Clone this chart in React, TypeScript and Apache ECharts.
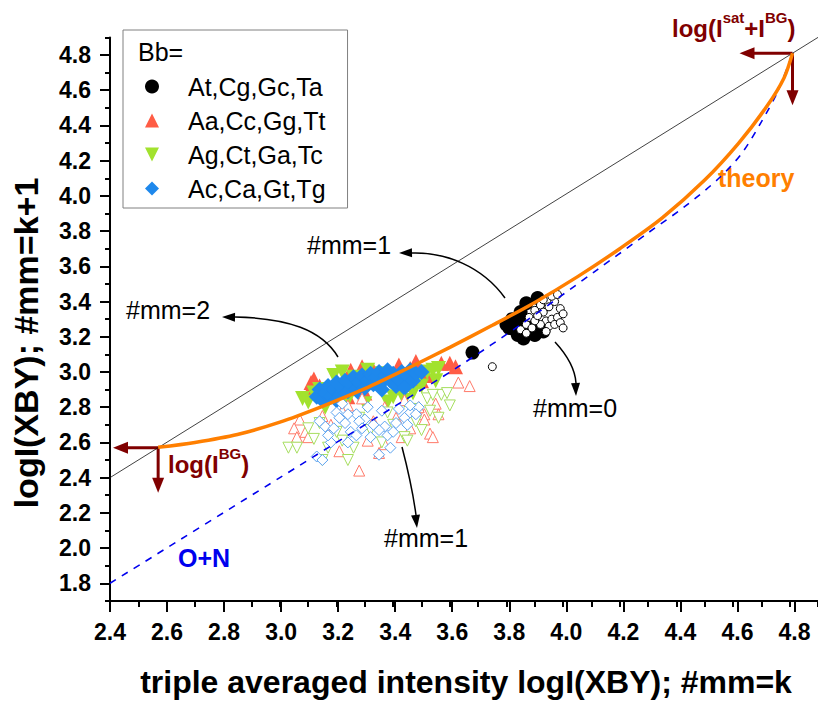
import React, { useEffect, useRef } from "react";
import * as echarts from "echarts";

const FONT = '"Liberation Sans", Arial, Helvetica, sans-serif';

// Axis ranges: the frame runs a little past the last labelled tick.
const X_RANGE = [2.4, 4.9];
const Y_RANGE = [1.7, 4.9];
const X_LABELLED = [2.4, 4.8];
const Y_LABELLED = [1.8, 4.8];
const MAJOR_STEP = 0.2;
const MINOR_STEP = 0.1;

// Background and saturation levels (log units) marked by the arrows.
const BG_LEVEL = 2.57;
const SAT_LEVEL = 4.81;

const groupNames = ["At,Cg,Gc,Ta", "Aa,Cc,Gg,Tt", "Ag,Ct,Ga,Tc", "Ac,Ca,Gt,Tg"];
const groupColors = ["#000000", "#ff5c45", "#a2e22e", "#1e88ec"];
const openColors = ["#000000", "#ff7a6a", "#a6de5e", "#5aa2f0"];

// Identity line y = x
const diagX = [2.4, 4.9];
const diagY = [2.4, 4.9];

// "O+N" reference curve
const onX = [2.4, 3.0, 3.4, 3.63, 3.86, 4.12, 4.3, 4.43, 4.55, 4.63, 4.7, 4.76, 4.81];
const onY = [1.8, 2.4, 2.8, 3.03, 3.28, 3.58, 3.79, 3.94, 4.1, 4.24, 4.42, 4.6, 4.81];

// Theory curve, from the background level up to saturation
const theoryX = [2.57, 2.7, 2.85, 3.0, 3.15, 3.3, 3.45, 3.6, 3.75, 3.9, 4.05, 4.2, 4.35, 4.5, 4.62, 4.72, 4.78, 4.81];
const theoryY = [2.572, 2.6, 2.645, 2.715, 2.805, 2.905, 3.02, 3.14, 3.265, 3.395, 3.54, 3.7, 3.875, 4.09, 4.3, 4.51, 4.67, 4.81];

// Filled symbols: #mm = k+1 pairs
const atFilled = [
  [3.68, 3.11], [3.8, 3.27], [3.82, 3.3], [3.83, 3.24], [3.86, 3.19], [3.88, 3.22],
  [3.9, 3.21], [3.93, 3.23], [3.85, 3.34], [3.87, 3.29], [3.87, 3.39], [3.91, 3.42],
  [3.84, 3.28], [3.81, 3.25], [3.89, 3.26], [3.84, 3.21],
];
const aaFilled = [
  [3.1, 2.88], [3.11, 2.94], [3.12, 2.96], [3.14, 2.92], [3.16, 2.9], [3.2, 2.95],
  [3.25, 3.01], [3.29, 3.03], [3.33, 3.01], [3.37, 2.99], [3.42, 3.04], [3.46, 3.02],
  [3.48, 3.06], [3.52, 2.98], [3.57, 3.05], [3.6, 3.05], [3.62, 3.03], [3.18, 2.87],
  [3.22, 2.91], [3.28, 2.93], [3.35, 2.95], [3.4, 2.97], [3.44, 2.93], [3.3, 2.88],
  [3.24, 2.86], [3.5, 2.95],
];
const agFilled = [
  [3.08, 2.85], [3.1, 2.83], [3.12, 2.88], [3.16, 2.8], [3.19, 2.98], [3.22, 3.0],
  [3.31, 3.01], [3.36, 2.99], [3.4, 2.86], [3.43, 2.89], [3.46, 2.93], [3.49, 2.97],
  [3.52, 3.0], [3.54, 3.01], [3.47, 2.88], [3.5, 2.92], [3.44, 2.84], [3.26, 2.97],
  [3.14, 2.9], [3.38, 2.83], [3.3, 2.82], [3.24, 2.84], [3.55, 2.95], [3.56, 3.02],
];
const acFilled = [
  [3.13, 2.86], [3.14, 2.9], [3.15, 2.84], [3.16, 2.88], [3.17, 2.92], [3.18, 2.86],
  [3.19, 2.9], [3.2, 2.94], [3.21, 2.87], [3.22, 2.91], [3.23, 2.95], [3.24, 2.89],
  [3.25, 2.93], [3.26, 2.97], [3.27, 2.9], [3.28, 2.94], [3.29, 2.98], [3.3, 2.91],
  [3.31, 2.95], [3.32, 2.99], [3.33, 2.93], [3.34, 2.97], [3.35, 3.0], [3.36, 2.94],
  [3.37, 2.98], [3.38, 3.01], [3.39, 2.95], [3.4, 2.99], [3.41, 2.92], [3.42, 2.96],
  [3.43, 3.0], [3.44, 2.94], [3.45, 2.98], [3.46, 3.01], [3.47, 2.95], [3.48, 2.99],
  [3.36, 2.9], [3.28, 2.88], [3.2, 2.84], [3.5, 3.0], [3.44, 2.91],
];

// Open symbols: #mm = k pairs
const atOpen = [
  [3.75, 3.03], [3.85, 3.24], [3.87, 3.27], [3.88, 3.31], [3.9, 3.35], [3.92, 3.38],
  [3.93, 3.34], [3.95, 3.37], [3.97, 3.4], [3.99, 3.36], [3.94, 3.29], [3.96, 3.3],
  [3.98, 3.31], [3.92, 3.27], [3.95, 3.26], [3.97, 3.27], [3.9, 3.29], [3.87, 3.22],
  [3.99, 3.28], [4.0, 3.33], [3.96, 3.43], [3.93, 3.41], [3.89, 3.25], [3.91, 3.32],
  [3.94, 3.23], [4.0, 3.25], [3.98, 3.44],
];
const aaOpen = [
  [3.07, 2.73], [3.05, 2.68], [3.06, 2.63], [3.09, 2.66], [3.1, 2.63], [3.21, 2.55],
  [3.28, 2.44], [3.35, 2.54], [3.37, 2.59], [3.43, 2.63], [3.51, 2.76], [3.53, 2.65],
  [3.55, 2.82], [3.63, 2.94], [3.67, 2.92], [3.41, 2.74], [3.31, 2.61], [3.54, 2.63],
  [3.29, 2.85], [3.24, 2.81], [3.44, 2.84], [3.49, 2.8], [3.51, 2.73], [3.37, 2.8],
  [3.18, 2.7], [3.46, 2.68], [3.33, 2.72], [3.22, 2.78], [3.15, 2.75], [3.56, 2.76],
];
const agOpen = [
  [3.03, 2.57], [3.06, 2.57], [3.15, 2.5], [3.24, 2.5], [3.17, 2.57], [3.14, 2.71],
  [3.52, 2.85], [3.57, 2.87], [3.6, 2.81], [3.53, 2.78], [3.5, 2.67], [3.44, 2.63],
  [3.32, 2.67], [3.22, 2.61], [3.59, 2.88], [3.54, 2.87], [3.45, 2.61], [3.56, 2.74],
  [3.48, 2.72], [3.4, 2.7], [3.28, 2.74], [3.2, 2.66], [3.36, 2.6], [3.12, 2.62],
  [3.26, 2.57], [3.47, 2.79], [3.38, 2.77], [3.1, 2.68],
];
const acOpen = [
  [3.13, 2.52], [3.15, 2.5], [3.16, 2.69], [3.2, 2.77], [3.23, 2.71], [3.27, 2.76],
  [3.25, 2.66], [3.3, 2.73], [3.32, 2.63], [3.37, 2.69], [3.39, 2.57], [3.44, 2.74],
  [3.46, 2.77], [3.49, 2.8], [3.46, 2.81], [3.18, 2.6], [3.24, 2.6], [3.35, 2.67],
  [3.38, 2.64], [3.35, 2.53], [3.17, 2.64], [3.24, 2.76], [3.28, 2.72], [3.29, 2.68],
  [3.33, 2.7], [3.41, 2.71], [3.36, 2.78], [3.42, 2.79], [3.21, 2.74], [3.19, 2.68],
  [3.31, 2.8], [3.27, 2.64], [3.4, 2.66], [3.45, 2.7], [3.14, 2.72], [3.48, 2.76],
  [3.22, 2.82],
];

const DOWN_TRIANGLE = "path://M0,0 L20,0 L10,20 Z";

const filledSets = [atFilled, aaFilled, agFilled, acFilled];
const openSets = [atOpen, aaOpen, agOpen, acOpen];
const symbols = ["circle", "triangle", DOWN_TRIANGLE, "diamond"];
const filledSizes = [14, 15, 15, 16];
const openSizes = [8, 11, 11, 11];

// Page layout
const W = 818;
const H = 704;
const PLOT_LEFT = 110;
const PLOT_TOP = 37.4;
const PLOT_W = 713;
const PLOT_H = 563.5;

const zip = (xs: number[], ys: number[]) => xs.map((x, i) => [x, ys[i]]);

function arrowHead(tx: number, ty: number, angle: number, len: number, half: number, fill: string) {
  const bx = tx - Math.cos(angle) * len;
  const by = ty - Math.sin(angle) * len;
  const nx = -Math.sin(angle) * half;
  const ny = Math.cos(angle) * half;
  return {
    type: "polygon",
    silent: true,
    shape: { points: [[tx, ty], [bx + nx, by + ny], [bx - nx, by - ny]] },
    style: { fill },
  };
}

function curvedArrow(
  x1: number, y1: number, c1x: number, c1y: number, c2x: number, c2y: number,
  x2: number, y2: number, tx: number, ty: number
) {
  const angle = Math.atan2(ty - c2y, tx - c2x);
  return [
    {
      type: "bezierCurve",
      silent: true,
      shape: { x1, y1, cpx1: c1x, cpy1: c1y, cpx2: c2x, cpy2: c2y, x2, y2 },
      style: { stroke: "#000", lineWidth: 1.5, fill: "none" },
    },
    arrowHead(tx, ty, angle, 13, 4.5, "#000"),
  ];
}

function label(x: number, y: number, text: string, size: number, weight: string, color: string) {
  return {
    type: "text",
    silent: true,
    x,
    y,
    style: {
      text,
      fontFamily: FONT,
      fontSize: size,
      fontWeight: weight,
      fill: color,
      align: "left",
      verticalAlign: "middle",
    },
  };
}

function levelLabel(x: number, y: number, text: string) {
  const base = { fontFamily: FONT, fontWeight: "bold", fill: "#800000" };
  return {
    type: "text",
    silent: true,
    x,
    y,
    style: {
      text,
      align: "left",
      verticalAlign: "middle",
      rich: {
        a: { ...base, fontSize: 24, lineHeight: 30, verticalAlign: "bottom" },
        b: { ...base, fontSize: 15, lineHeight: 14, verticalAlign: "top" },
      },
    },
  };
}

function buildGraphics(chart: echarts.ECharts) {
  const bg = chart.convertToPixel({ gridIndex: 0 }, [BG_LEVEL, BG_LEVEL]) as number[];
  const sat = chart.convertToPixel({ gridIndex: 0 }, [SAT_LEVEL, SAT_LEVEL]) as number[];
  const axisX = chart.convertToPixel({ xAxisIndex: 0 }, X_RANGE[0]) as number;
  const red = "#800000";
  const redLine = (x1: number, y1: number, x2: number, y2: number) => ({
    type: "line",
    silent: true,
    shape: { x1, y1, x2, y2 },
    style: { stroke: red, lineWidth: 3 },
  });
  const bgLeftTip = axisX + 3;
  const bgDownTip = bg[1] + 45;
  const satLeftTip = sat[0] - 53;
  const satDownTip = sat[1] + 52;

  return [
    // legend heading
    label(138, 52, "Bb=", 25, "normal", "#000"),
    // axis titles
    {
      type: "text",
      silent: true,
      x: 466,
      y: 682,
      style: {
        text: "triple averaged intensity logI(XBY); #mm=k",
        fontFamily: FONT,
        fontSize: 32,
        fontWeight: "bold",
        fill: "#000",
        align: "center",
        verticalAlign: "middle",
      },
    },
    {
      type: "text",
      silent: true,
      x: 26,
      y: 343,
      rotation: Math.PI / 2,
      style: {
        text: "logI(XBY); #mm=k+1",
        fontFamily: FONT,
        fontSize: 34,
        fontWeight: "bold",
        fill: "#000",
        align: "center",
        verticalAlign: "middle",
      },
    },
    // background level arrows
    redLine(bg[0], bg[1], bgLeftTip + 12, bg[1]),
    arrowHead(bgLeftTip, bg[1], Math.PI, 15, 6, red),
    redLine(bg[0], bg[1], bg[0], bgDownTip - 12),
    arrowHead(bg[0], bgDownTip, Math.PI / 2, 15, 6, red),
    levelLabel(168, 461, "{a|log(I}{b|BG}{a|)}"),
    // saturation level arrows
    redLine(sat[0], sat[1], satLeftTip + 12, sat[1]),
    arrowHead(satLeftTip, sat[1], Math.PI, 15, 6, red),
    redLine(sat[0], sat[1], sat[0], satDownTip - 12),
    arrowHead(sat[0], satDownTip, Math.PI / 2, 15, 6, red),
    levelLabel(672, 25, "{a|log(I}{b|sat}{a|+I}{b|BG}{a|)}"),
    // curve labels
    label(718, 178, "theory", 25, "bold", "#ff7f00"),
    label(178, 558, "O+N", 25, "bold", "#0000ee"),
    // mismatch annotations
    label(307, 245, "#mm=1", 25, "normal", "#000"),
    ...curvedArrow(505, 298, 482, 266, 445, 252, 412, 253, 399, 253),
    label(126, 310, "#mm=2", 25, "normal", "#000"),
    ...curvedArrow(338, 357, 322, 330, 288, 318, 235, 317, 222, 317),
    label(533, 408, "#mm=0", 25, "normal", "#000"),
    ...curvedArrow(555, 342, 567, 355, 575, 368, 576, 383, 576, 396),
    label(384, 538, "#mm=1", 25, "normal", "#000"),
    ...curvedArrow(402, 447, 408, 470, 413, 493, 416, 515, 417, 528),
  ];
}

export default function App() {
  const ref = useRef<HTMLDivElement>(null);

  useEffect(() => {
    if (!ref.current) return;
    const chart = echarts.init(ref.current, undefined, { renderer: "svg" });

    const pxPerX = PLOT_W / (X_RANGE[1] - X_RANGE[0]);
    const pxPerY = PLOT_H / (Y_RANGE[1] - Y_RANGE[0]);
    const majorTop = PLOT_TOP + (Y_RANGE[1] - Y_LABELLED[1]) * pxPerY;
    const majorW = (X_LABELLED[1] - X_LABELLED[0]) * pxPerX;
    const majorH = (Y_LABELLED[1] - Y_LABELLED[0]) * pxPerY;
    const bottomGap = (Y_LABELLED[0] - Y_RANGE[0]) * pxPerY;

    const tickFont = { fontFamily: FONT, fontSize: 23, fontWeight: "bold" as const, color: "#000" };
    const axisLine = { show: true, lineStyle: { color: "#000", width: 2 } };

    const scatterSeries: any[] = [];
    filledSets.forEach((data, i) => {
      scatterSeries.push({
        type: "scatter",
        name: groupNames[i],
        data,
        symbol: symbols[i],
        symbolSize: filledSizes[i],
        itemStyle: { color: groupColors[i], borderWidth: 0, opacity: 1 },
        silent: true,
      });
    });
    openSets.forEach((data, i) => {
      scatterSeries.push({
        type: "scatter",
        name: groupNames[i] + " #mm=k",
        data,
        symbol: symbols[i],
        symbolSize: openSizes[i],
        itemStyle: { color: "#ffffff", borderColor: openColors[i], borderWidth: 1, opacity: 1 },
        silent: true,
      });
    });

    chart.setOption({
      animation: false,
      backgroundColor: "#ffffff",
      grid: [
        { left: PLOT_LEFT, top: PLOT_TOP, width: PLOT_W, height: PLOT_H, containLabel: false },
        { left: PLOT_LEFT, top: majorTop, width: majorW, height: majorH, containLabel: false },
      ],
      xAxis: [
        {
          type: "value",
          gridIndex: 0,
          min: X_RANGE[0],
          max: X_RANGE[1],
          interval: MINOR_STEP,
          axisLine,
          axisTick: { show: true, length: 6, inside: false, lineStyle: { color: "#000", width: 2 } },
          axisLabel: { show: false },
          splitLine: { show: false },
        },
        {
          type: "value",
          gridIndex: 1,
          min: X_LABELLED[0],
          max: X_LABELLED[1],
          interval: MAJOR_STEP,
          offset: bottomGap,
          axisLine: { show: false },
          axisTick: { show: true, length: 11, lineStyle: { color: "#000", width: 2 } },
          axisLabel: { ...tickFont, margin: 20, formatter: (v: number) => v.toFixed(1) },
          splitLine: { show: false },
        },
      ],
      yAxis: [
        {
          type: "value",
          gridIndex: 0,
          min: Y_RANGE[0],
          max: Y_RANGE[1],
          interval: MINOR_STEP,
          axisLine,
          axisTick: { show: true, length: 5, lineStyle: { color: "#000", width: 2 } },
          axisLabel: { show: false },
          splitLine: { show: false },
        },
        {
          type: "value",
          gridIndex: 1,
          min: Y_LABELLED[0],
          max: Y_LABELLED[1],
          interval: MAJOR_STEP,
          axisLine: { show: false },
          axisTick: { show: true, length: 10, lineStyle: { color: "#000", width: 2 } },
          axisLabel: { ...tickFont, margin: 19, formatter: (v: number) => v.toFixed(1) },
          splitLine: { show: false },
        },
      ],
      legend: {
        orient: "vertical",
        left: 123,
        top: 30,
        data: groupNames,
        selectedMode: false,
        itemWidth: 14,
        itemHeight: 14,
        itemGap: 9,
        padding: [44, 22, 7, 22],
        borderColor: "#808080",
        borderWidth: 1,
        textStyle: { fontFamily: FONT, fontSize: 25, color: "#000", lineHeight: 25, padding: [0, 0, 0, 24] },
      },
      series: [
        ...scatterSeries,
        {
          type: "line",
          name: "y=x",
          data: zip(diagX, diagY),
          showSymbol: false,
          symbol: "none",
          lineStyle: { color: "#111", width: 0.8 },
          silent: true,
        },
        {
          type: "line",
          name: "O+N",
          data: zip(onX, onY),
          showSymbol: false,
          symbol: "none",
          smooth: 0.3,
          lineStyle: { color: "#0000ee", width: 1.6, type: [7, 7] },
          silent: true,
        },
        {
          type: "line",
          name: "theory",
          data: zip(theoryX, theoryY),
          showSymbol: false,
          symbol: "none",
          smooth: 0.3,
          lineStyle: { color: "#ff7f00", width: 3.5 },
          silent: true,
        },
      ],
    });

    chart.setOption({ graphic: buildGraphics(chart) });

    return () => chart.dispose();
  }, []);

  return (
    <div
      ref={ref}
      style={{ position: "absolute", left: 0, top: 0, width: W, height: H, overflow: "hidden" }}
    />
  );
}
